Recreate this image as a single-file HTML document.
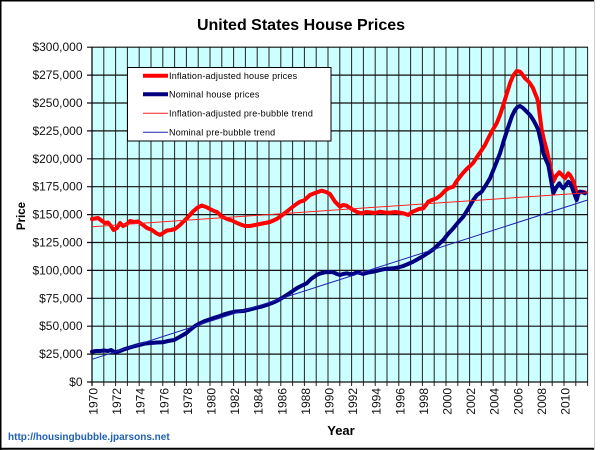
<!DOCTYPE html>
<html><head><meta charset="utf-8"><style>
html,body{margin:0;padding:0;background:#fff;}
svg{display:block;}
text{font-family:"Liberation Sans",Arial,sans-serif;}
</style></head><body>
<svg width="600" height="450" viewBox="0 0 600 450" xmlns="http://www.w3.org/2000/svg">
<rect x="0" y="0" width="600" height="450" fill="#fff"/>
<!-- outer border -->
<line x1="0" y1="0.75" x2="595" y2="0.75" stroke="#000" stroke-width="1.5"/>
<line x1="0.75" y1="0" x2="0.75" y2="450" stroke="#000" stroke-width="1.5"/>
<line x1="0" y1="448.8" x2="595" y2="448.8" stroke="#000" stroke-width="2"/>
<line x1="594.5" y1="0" x2="594.5" y2="450" stroke="#ccc" stroke-width="1"/>

<text x="301" y="30" font-size="16" font-weight="bold" text-anchor="middle" fill="#000">United States House Prices</text>

<!-- plot area -->
<rect x="92" y="47.2" width="495.6" height="334.8" fill="#ccffff"/>
<path stroke="#222" stroke-width="1" fill="none" d="M92 47V386M103.8 47V386M115.6 47V386M127.4 47V386M139.2 47V386M151 47V386M162.8 47V386M174.6 47V386M186.4 47V386M198.2 47V386M210 47V386M221.8 47V386M233.6 47V386M245.4 47V386M257.2 47V386M269 47V386M280.8 47V386M292.6 47V386M304.4 47V386M316.2 47V386M328 47V386M339.8 47V386M351.6 47V386M363.4 47V386M375.2 47V386M387 47V386M398.8 47V386M410.6 47V386M422.4 47V386M434.2 47V386M446 47V386M457.8 47V386M469.6 47V386M481.4 47V386M493.2 47V386M505 47V386M516.8 47V386M528.6 47V386M540.4 47V386M552.2 47V386M564 47V386M575.8 47V386M587.6 47V386"/>
<path stroke="#111" stroke-width="1.2" fill="none" d="M87 382H588M87 354.1H588M87 326.2H588M87 298.3H588M87 270.4H588M87 242.5H588M87 214.6H588M87 186.7H588M87 158.8H588M87 130.9H588M87 103H588M87 75.1H588M87 47.2H588"/>
<line x1="92" y1="47" x2="92" y2="386" stroke="#000" stroke-width="1.2"/>

<!-- y labels -->
<g font-size="12" fill="#111" text-anchor="end">
<text x="82.5" y="386">$0</text>
<text x="82.5" y="358.1">$25,000</text>
<text x="82.5" y="330.2">$50,000</text>
<text x="82.5" y="302.3">$75,000</text>
<text x="82.5" y="274.4">$100,000</text>
<text x="82.5" y="246.5">$125,000</text>
<text x="82.5" y="218.6">$150,000</text>
<text x="82.5" y="190.7">$175,000</text>
<text x="82.5" y="162.8">$200,000</text>
<text x="82.5" y="134.9">$225,000</text>
<text x="82.5" y="107">$250,000</text>
<text x="82.5" y="79.1">$275,000</text>
<text x="82.5" y="51.2">$300,000</text>
</g>

<!-- x labels -->
<g font-size="12" fill="#111" text-anchor="end">
<text transform="translate(97.5,388) rotate(-90)">1970</text>
<text transform="translate(121.1,388) rotate(-90)">1972</text>
<text transform="translate(144.7,388) rotate(-90)">1974</text>
<text transform="translate(168.3,388) rotate(-90)">1976</text>
<text transform="translate(191.9,388) rotate(-90)">1978</text>
<text transform="translate(215.5,388) rotate(-90)">1980</text>
<text transform="translate(239.1,388) rotate(-90)">1982</text>
<text transform="translate(262.7,388) rotate(-90)">1984</text>
<text transform="translate(286.3,388) rotate(-90)">1986</text>
<text transform="translate(309.9,388) rotate(-90)">1988</text>
<text transform="translate(333.5,388) rotate(-90)">1990</text>
<text transform="translate(357.1,388) rotate(-90)">1992</text>
<text transform="translate(380.7,388) rotate(-90)">1994</text>
<text transform="translate(404.3,388) rotate(-90)">1996</text>
<text transform="translate(427.9,388) rotate(-90)">1998</text>
<text transform="translate(451.5,388) rotate(-90)">2000</text>
<text transform="translate(475.1,388) rotate(-90)">2002</text>
<text transform="translate(498.7,388) rotate(-90)">2004</text>
<text transform="translate(522.3,388) rotate(-90)">2006</text>
<text transform="translate(545.9,388) rotate(-90)">2008</text>
<text transform="translate(569.5,388) rotate(-90)">2010</text>
</g>

<text x="341" y="435" font-size="13" font-weight="bold" text-anchor="middle" fill="#000">Year</text>
<text transform="translate(25,216) rotate(-90)" font-size="11.5" font-weight="bold" text-anchor="middle" fill="#000">Price</text>
<text x="8" y="440" font-size="10" font-weight="bold" fill="#2060b0">http://housingbubble.jparsons.net</text>

<!-- red series -->
<polyline fill="none" stroke="#ff0000" stroke-width="4" stroke-linejoin="round" stroke-linecap="round" points="92,219 98,218 102,221 105,223 108,222.5 111,226 113.5,230 117,228 120,223 123,226 127,224 130,221 134,222 138,221.5 143,225 147,228 152,230 156,233 160,235 163,233 167,230.5 171,230 175,229 180,225 185,220 189,216 193,211.5 197,208 201.7,205.5 206,207 210,209 214,211 217,212 221.7,216.5 227,219 232,220.5 237,223 242,225 245,226 250,226 255,225 260,224 265,223 270,222 276.7,219 281,216 285,213 290,209 295,205 300,201.7 304,200.5 310,195 315,193 321.7,190.7 326,192 330,194 335,201.7 340,206.7 343,205 346.7,205.7 350,208 353.3,210 357,212 361.7,213.3 366,212 370,212.3 375,213 380,211.7 385,212.5 390,212.7 395,212 400,212.7 404,213.5 408.3,215 412,212 415,210.7 419,209 423.3,208.3 426,205 428.3,201.7 432,200 436.7,198.3 441,195 445,190.7 449,188 453.3,186.7 456,182 460,176.7 463,173 466.7,169 470,166 473.3,162.7 477,157 481.7,150 485,145 488.3,138.3 492,131 496.7,123.3 500,115 503.3,105 507,93 510,83.3 513,76 516.7,71 520,71.7 522,74 525,78.3 528,81 530,83.3 533,88 535,93.3 537,98 538.3,103.3 540,117 541.7,130 544,140 546.7,150 550,165 553.3,181.7 556,176 559.3,172.3 562,175 565,178.3 568.3,173.3 570,175 572.7,180 575,187 576.7,193.3 579,192 581.7,191.7 585,192.3"/>

<!-- blue series -->
<polyline fill="none" stroke="#000080" stroke-width="4" stroke-linejoin="round" stroke-linecap="round" points="92,351.7 96,351 100,351 104,350.5 108,351 111,350 115,352.3 120,351 125,349 130,347.5 135,346 139,345 145,343.5 151,343 157,342.5 162.7,342.3 168,341 174,340 180,336.7 186,333.3 190,330 195,326 200,323.3 205,321 210,319.3 215,317.5 220,316 225,314 230,312.7 236,311.5 243.3,311 250,309.5 256.7,307.7 262,306.5 266.7,305 272,303 276.7,301 282,298 286.7,295 292,291.5 296.7,288.3 301,286 306.7,283.3 311,279 316.7,275 320,273.5 325,272.3 330,272 333.3,272.3 337,274 340,275 343,274 346.7,273.3 350,274 353.3,274 356.7,272.3 360,273 363.3,274 368,272.5 373.3,271.7 378,270.5 383.3,269.3 388,268.8 393.3,268.3 398,267.5 403.3,266 408,264 413.3,261.7 418,259 423.3,256 428,253 433.3,249.3 438,245 443.3,240 448,234 453.3,228.3 458,222.5 463.3,216.7 468,209 473.3,200 477,195 481.7,191.7 486,185 490,178.3 495,166 500,153.3 504,140 508.3,126.7 512,116 515,110 517.5,107 520,106 523,108 526.7,111.7 530,115 533.3,120 536,125 538.3,130 541,142 543.3,153.3 546,160 548.3,165 551,180 553.3,193.3 556,188 559.3,183.3 561,186 563.3,188.3 566,185 568.3,181.7 570,183 571.7,186.7 574,193 576.7,200 578,195 580,191.7 583,192.5 585,193.3"/>

<!-- trend lines -->
<line x1="92" y1="226.7" x2="587.6" y2="192.7" stroke="#ff2020" stroke-width="1"/>
<line x1="92" y1="359.3" x2="587.6" y2="200" stroke="#2020b0" stroke-width="1"/>

<!-- legend -->
<rect x="127.5" y="67.5" width="203.5" height="73.5" fill="#fff" stroke="#000" stroke-width="1"/>
<line x1="143" y1="75.7" x2="168" y2="75.7" stroke="#ff0000" stroke-width="4"/>
<line x1="143" y1="94.3" x2="168" y2="94.3" stroke="#000080" stroke-width="4"/>
<line x1="143" y1="113.3" x2="168" y2="113.3" stroke="#ff2020" stroke-width="1"/>
<line x1="143" y1="132.3" x2="168" y2="132.3" stroke="#2020b0" stroke-width="1"/>
<g font-size="9" fill="#000" letter-spacing="0.2">
<text x="169" y="79">Inflation-adjusted house prices</text>
<text x="169" y="97.6">Nominal house prices</text>
<text x="169" y="116.6">Inflation-adjusted pre-bubble trend</text>
<text x="169" y="135.6">Nominal pre-bubble trend</text>
</g>
</svg>
</body></html>
